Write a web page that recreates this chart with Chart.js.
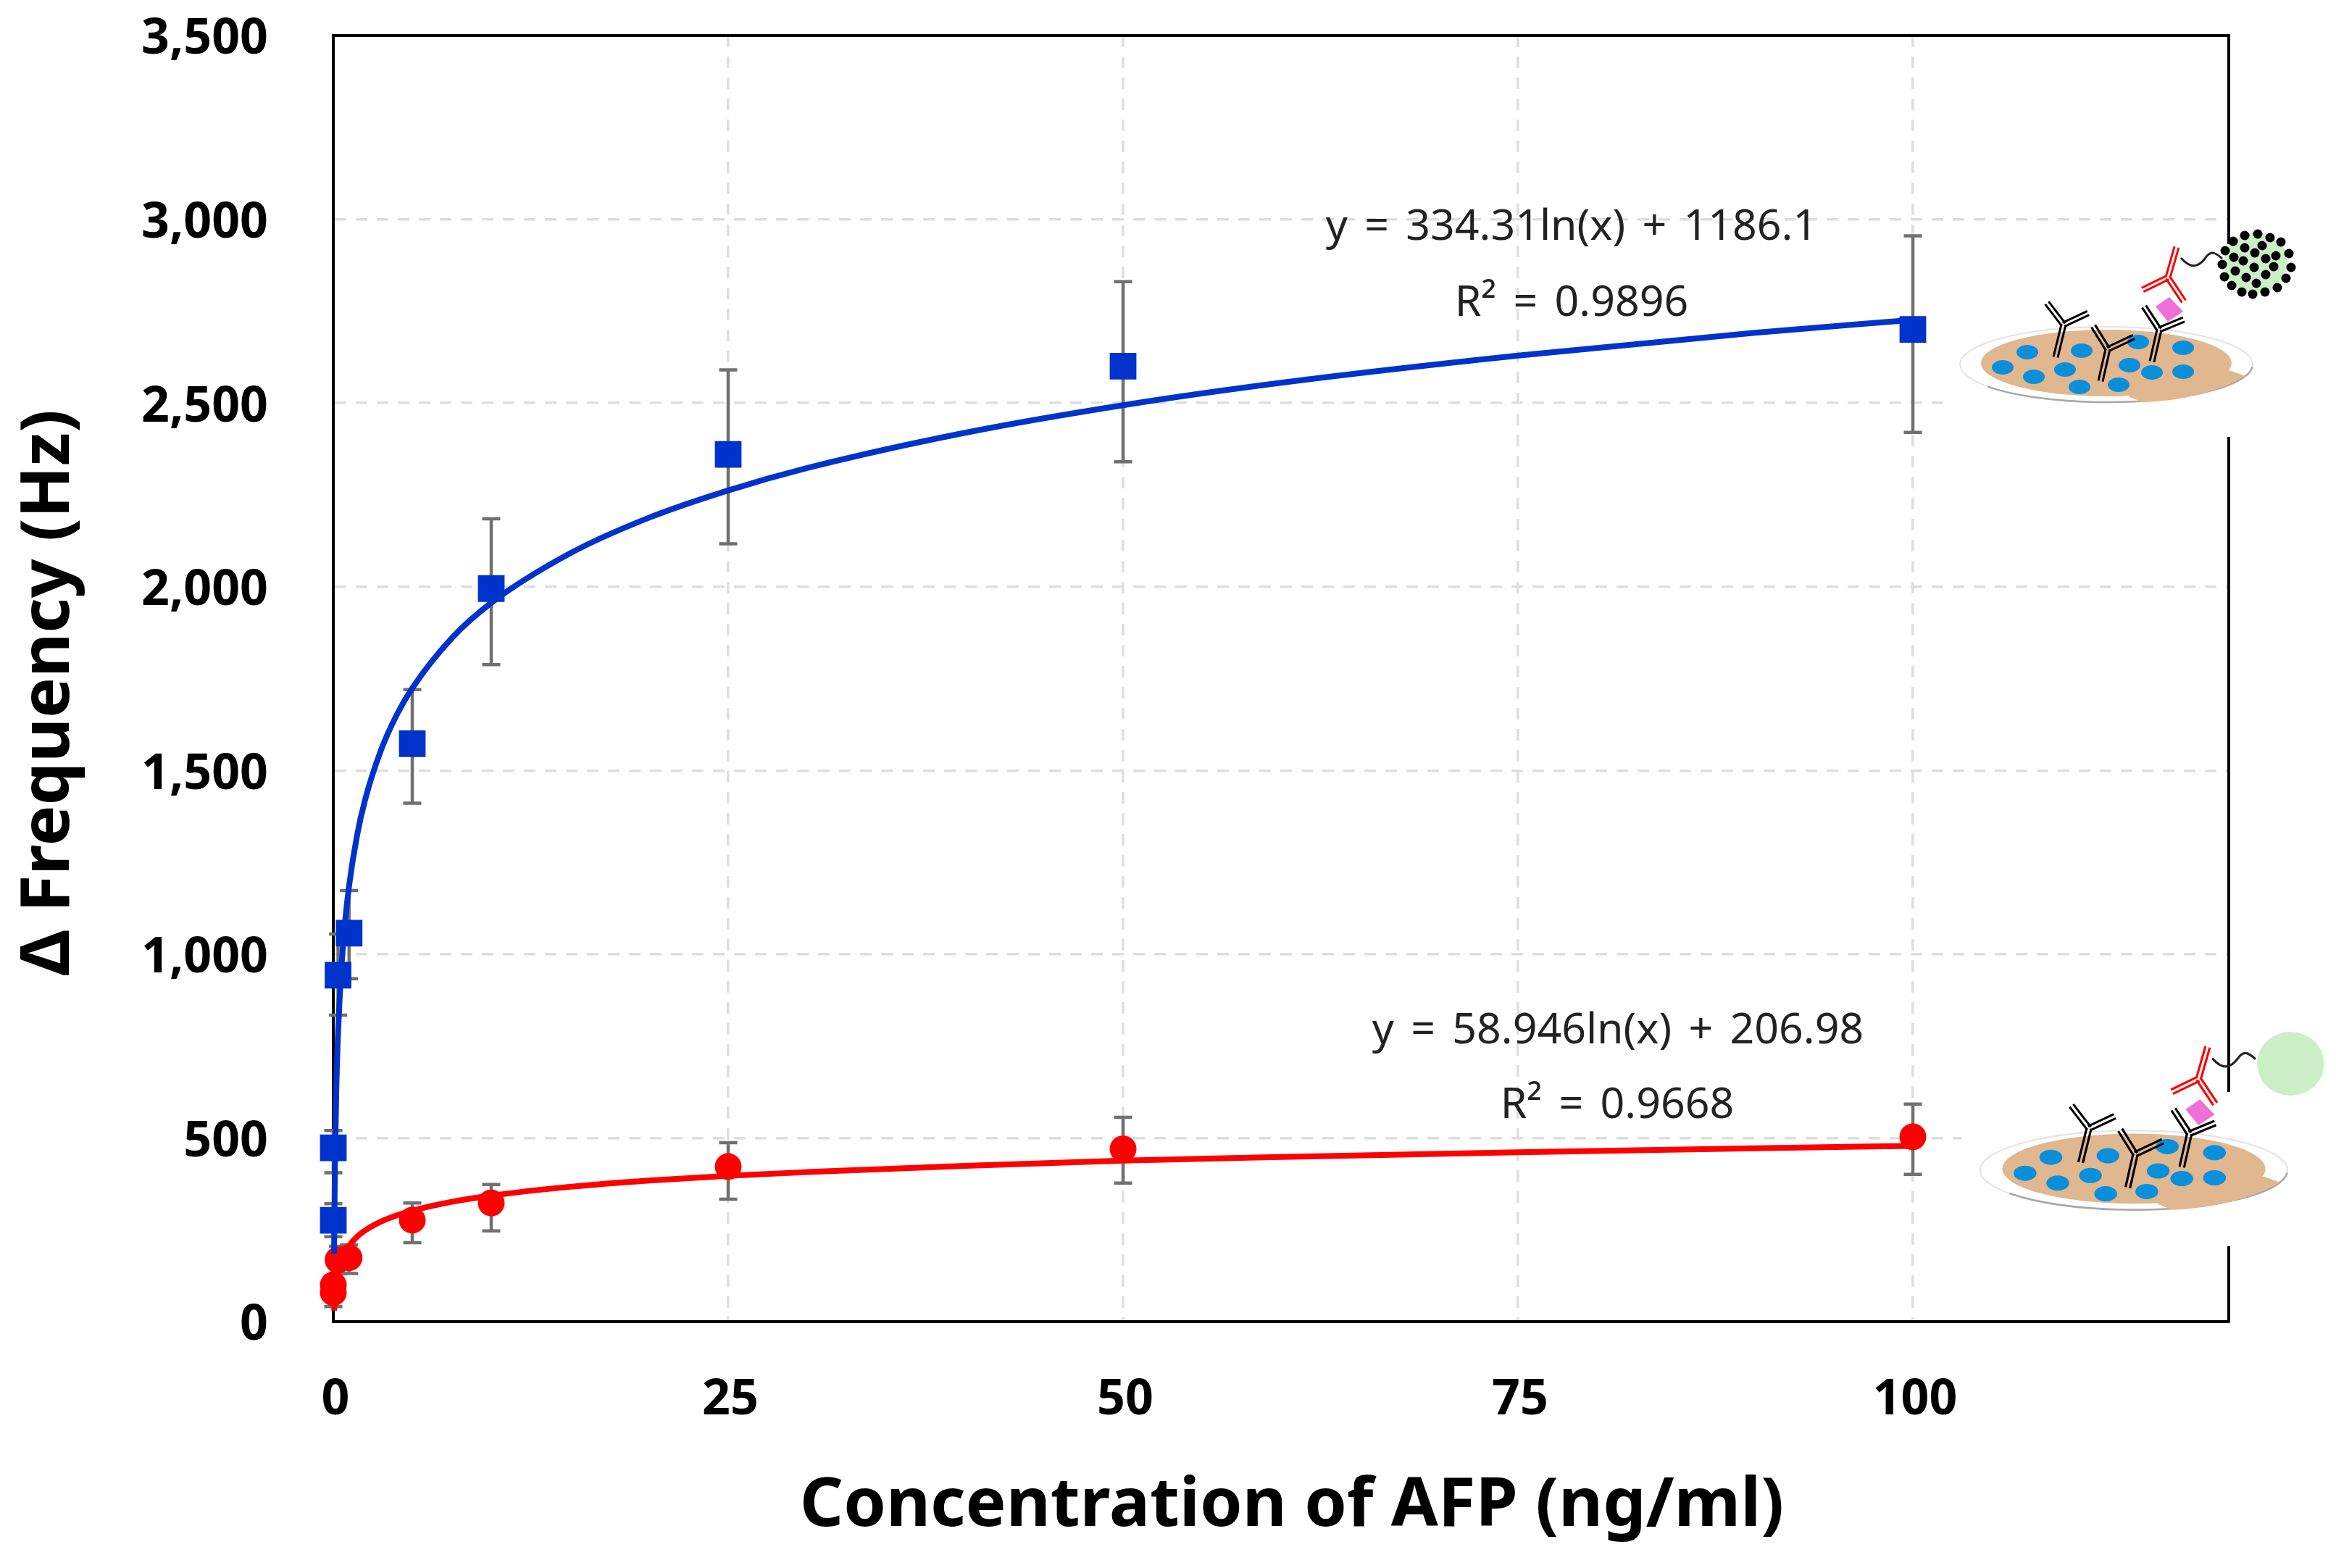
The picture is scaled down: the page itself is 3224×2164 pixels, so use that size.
<!DOCTYPE html>
<html>
<head>
<meta charset="utf-8">
<title>AFP</title>
<script src="https://cdn.jsdelivr.net/npm/chart.js@4"></script>
<style>
  html, body { margin: 0; padding: 0; background: #fff; }
  canvas { display: block; }
</style>
</head>
<body>
<canvas id="afpChart" width="3224" height="2164"></canvas>
<script>
// values
const xTicks = [0, 25, 50, 75, 100];
const yTicks = [0, 500, 1000, 1500, 2000, 2500, 3000, 3500];

const conc = [0, 0, 0.3, 1, 5, 10, 25, 50, 100];

const blueMean = [276, 473, 943, 1057, 1573, 1995, 2360, 2600, 2700];
const blueLow = [231, 405, 834, 933, 1411, 1788, 2117, 2340, 2420];
const blueHigh = [321, 520, 1055, 1173, 1720, 2185, 2590, 2830, 2955];

const redMean = [79, 100, 168, 174, 276, 323, 422, 470, 503];
const redLow = [41, 60, 130, 131, 215, 247, 333, 377, 401];
const redHigh = [100, 124, 205, 209, 323, 373, 487, 556, 592];

// trend lines as they run through the picture
const trendConc = [0.05, 0.1, 0.2, 0.3, 0.5, 0.75, 1, 1.5, 2, 3, 4, 5, 7.5, 10, 15, 20, 25, 30, 40, 50, 60, 75, 90, 100];
const blueTrend = [185, 416, 648, 784, 954, 1090, 1186, 1322, 1418, 1553, 1650, 1724, 1860, 1956, 2091, 2188, 2262, 2323, 2419, 2494, 2555, 2629, 2691, 2726];
const redTrend = [30, 71, 112, 136, 166, 190, 207, 231, 248, 272, 289, 302, 326, 343, 367, 384, 397, 407, 424, 438, 448, 461, 472, 478];

const FONT = '"Noto Sans", sans-serif';
const toPoints = (xs, ys) => xs.map((x, i) => ({ x, y: ys[i] }));

// ---- error bars, drawn under the markers ----
const errorBars = {
  id: 'errorBars',
  beforeDatasetsDraw(chart) {
    const { ctx, scales: { x, y } } = chart;
    const sets = [[blueLow, blueHigh], [redLow, redHigh]];
    ctx.save();
    ctx.strokeStyle = '#707070';
    ctx.lineWidth = 4.5;
    sets.forEach(([low, high]) => {
      conc.forEach((c, i) => {
        const px = x.getPixelForValue(c);
        const y0 = y.getPixelForValue(low[i]);
        const y1 = y.getPixelForValue(high[i]);
        ctx.beginPath();
        ctx.moveTo(px, y0); ctx.lineTo(px, y1);
        ctx.moveTo(px - 12.5, y0); ctx.lineTo(px + 12.5, y0);
        ctx.moveTo(px - 12.5, y1); ctx.lineTo(px + 12.5, y1);
        ctx.stroke();
      });
    });
    ctx.restore();
  }
};

// ---- the little assay sketches on the right ----
function doubleLine(ctx, x1, y1, x2, y2, color) {
  const len = Math.hypot(x2 - x1, y2 - y1);
  const ox = -(y2 - y1) / len * 3, oy = (x2 - x1) / len * 3;
  ctx.strokeStyle = color;
  ctx.lineWidth = 3;
  ctx.beginPath();
  ctx.moveTo(x1 + ox, y1 + oy); ctx.lineTo(x2 + ox, y2 + oy);
  ctx.moveTo(x1 - ox, y1 - oy); ctx.lineTo(x2 - ox, y2 - oy);
  ctx.stroke();
}

function antibody(ctx, pts, color) {
  const [j, stem, a, b] = pts;
  doubleLine(ctx, j[0], j[1], stem[0], stem[1], color);
  doubleLine(ctx, j[0], j[1], a[0], a[1], color);
  doubleLine(ctx, j[0], j[1], b[0], b[1], color);
}

function drawAssay(ctx, cx, cy, sx, sy, dotted) {
  ctx.save();
  ctx.translate(cx, cy);
  ctx.scale(sx, sy);

  // plate
  ctx.fillStyle = '#fff';
  ctx.strokeStyle = '#e4e4e4';
  ctx.lineWidth = 2;
  ctx.beginPath(); ctx.ellipse(0, 0, 202, 52, 0, 0, Math.PI * 2); ctx.fill(); ctx.stroke();
  ctx.strokeStyle = '#a8a8a8';
  ctx.lineWidth = 2.5;
  ctx.beginPath(); ctx.ellipse(0, 0, 202, 52, 0, 0.02 * Math.PI, 0.8 * Math.PI); ctx.stroke();

  // cell layer
  ctx.fillStyle = '#e0b78f';
  ctx.beginPath(); ctx.ellipse(0, -2, 173, 46, 0, 0, Math.PI * 2); ctx.fill();
  ctx.beginPath();
  ctx.moveTo(170, 8); ctx.lineTo(192, 16);
  ctx.quadraticCurveTo(130, 50, 50, 52);
  ctx.lineTo(30, 44); ctx.closePath(); ctx.fill();

  // antigens
  ctx.fillStyle = '#0b8fdb';
  [[-109, -17], [-143, 4], [-100, 17], [-57, 7], [-34, -19], [-37, 31], [17, 28], [32, 1], [44, -31], [63, 11], [106, -23], [106, 10]].forEach(([bx, by]) => {
    ctx.beginPath(); ctx.ellipse(bx, by, 15, 10, 0, 0, Math.PI * 2); ctx.fill();
  });

  // capture antibodies
  antibody(ctx, [[-59, -55], [-70, -10], [-82, -85], [-25, -71]], '#000');
  antibody(ctx, [[2, -21], [-8, 23], [-18, -53], [38, -38]], '#000');
  antibody(ctx, [[73, -48], [63, -4], [52, -80], [107, -62]], '#000');

  // antigen bound between them
  ctx.fillStyle = '#ee6fd6';
  ctx.beginPath();
  ctx.moveTo(87, -93); ctx.lineTo(106, -73); ctx.lineTo(85, -59); ctx.lineTo(68, -80);
  ctx.closePath(); ctx.fill();

  // detection antibody
  antibody(ctx, [[85, -120], [97, -162], [50, -103], [107, -87]], '#f00');

  // linker
  ctx.strokeStyle = '#222';
  ctx.lineWidth = 3;
  ctx.beginPath();
  ctx.moveTo(103, -147);
  ctx.bezierCurveTo(118, -130, 128, -136, 136, -146);
  ctx.bezierCurveTo(144, -158, 150, -155, 160, -146);
  ctx.stroke();

  // nanoparticle
  ctx.fillStyle = '#cdefc8';
  ctx.beginPath(); ctx.ellipse(206, -140, 44, 42, 0, 0, Math.PI * 2); ctx.fill();
  if (dotted) {
    ctx.fillStyle = '#000';
    [[175, -170], [191, -178], [209, -180], [226, -175], [241, -169], [252, -153], [255, -134], [248, -119], [236, -106], [219, -100], [202, -97], [187, -100], [173, -109], [163, -121], [160, -138], [164, -157],
     [191, -161], [215, -164], [205, -154], [176, -148], [189, -143], [220, -146], [234, -150], [204, -134], [231, -135], [178, -129], [193, -120], [220, -124], [207, -112]].forEach(([dx, dy]) => {
      ctx.beginPath(); ctx.arc(dx, dy, 6.5, 0, Math.PI * 2); ctx.fill();
    });
  }
  ctx.restore();
}

const decor = {
  id: 'decor',
  beforeDatasetsDraw(chart) {
    const { ctx, chartArea: { left, right, top } } = chart;
    ctx.save();
    // top and right sides of the frame
    ctx.strokeStyle = '#000';
    ctx.lineWidth = 4;
    ctx.beginPath();
    ctx.moveTo(left, top); ctx.lineTo(right, top); ctx.lineTo(right, chart.chartArea.bottom);
    ctx.stroke();
    // sketches sit on white patches that break the frame and the grid
    ctx.fillStyle = '#fff';
    ctx.fillRect(2682, 337, 542, 266);
    ctx.fillRect(2708, 1507, 516, 213);
    drawAssay(ctx, 2907, 503, 1, 1, true);
    drawAssay(ctx, 2945, 1615, 1.05, 1.05, false);
    // fit equations
    ctx.fillStyle = '#222';
    ctx.font = '400 59px ' + FONT;
    ctx.wordSpacing = '8px';
    ctx.textAlign = 'center';
    ctx.textBaseline = 'middle';
    ctx.fillText('y = 334.31ln(x) + 1186.1', 2169, 314);
    ctx.fillText('R² = 0.9896', 2169, 419);
    ctx.fillText('y = 58.946ln(x) + 206.98', 2233, 1423);
    ctx.fillText('R² = 0.9668', 2232, 1526);
    ctx.wordSpacing = '0px';
    // axis titles, both sit a little off the axis centre in the picture
    ctx.fillStyle = '#000';
    ctx.font = 'bold 94px ' + FONT;
    ctx.fillText('Concentration of AFP (ng/ml)', 1783, 2079);
    ctx.translate(68, 956);
    ctx.rotate(-Math.PI / 2);
    ctx.fillText('Δ Frequency (Hz)', 0, 0);
    ctx.restore();
  }
};

const gridOpts = { color: '#dedede', lineWidth: 3.5, drawTicks: false };
const borderOpts = { color: '#000', width: 4, dash: [16, 13] };

new Chart(document.getElementById('afpChart'), {
  type: 'scatter',
  data: {
    datasets: [
      {
        label: 'red trend', data: toPoints(trendConc, redTrend), showLine: true, order: 4,
        borderColor: '#ff0000', borderWidth: 8, pointRadius: 0, cubicInterpolationMode: 'monotone', clip: false
      },
      {
        label: 'red', data: toPoints(conc, redMean), order: 3,
        pointStyle: 'circle', pointRadius: 18.5, backgroundColor: '#ff0000', borderWidth: 0, clip: false
      },
      {
        label: 'blue', data: toPoints(conc, blueMean), order: 2,
        pointStyle: 'rect', pointRadius: 26, backgroundColor: '#0033cc', borderWidth: 0, clip: false
      },
      {
        label: 'blue trend', data: toPoints(trendConc, blueTrend), showLine: true, order: 1,
        borderColor: '#0033cc', borderWidth: 8, pointRadius: 0, cubicInterpolationMode: 'monotone', clip: false
      }
    ]
  },
  options: {
    responsive: false,
    animation: false,
    devicePixelRatio: 1,
    layout: { padding: { top: 49, right: 148, left: 0, bottom: 0 } },
    plugins: { legend: { display: false }, tooltip: { enabled: false } },
    scales: {
      x: {
        type: 'linear', min: 0, max: 120,
        grid: gridOpts, border: borderOpts,
        afterBuildTicks: (s) => { s.ticks = xTicks.map(value => ({ value })); },
        afterFit: (s) => { s.height = 340; },
        ticks: { color: '#000', padding: 68, labelOffset: 3, maxRotation: 0, font: { size: 68, weight: 'bold', family: FONT } }
      },
      y: {
        type: 'linear', min: 0, max: 3500,
        grid: gridOpts, border: borderOpts,
        afterBuildTicks: (s) => { s.ticks = yTicks.map(value => ({ value })); },
        // tick padding would otherwise push the plot down
        afterFit: (s) => { s.width = 460; s.paddingTop = 0; s.paddingBottom = 0; },
        ticks: { color: '#000', padding: 90, labelOffset: 6, font: { size: 68, weight: 'bold', family: FONT }, callback: (v) => v.toLocaleString('en-US') }
      }
    }
  },
  plugins: [errorBars, decor]
});
</script>
</body>
</html>
